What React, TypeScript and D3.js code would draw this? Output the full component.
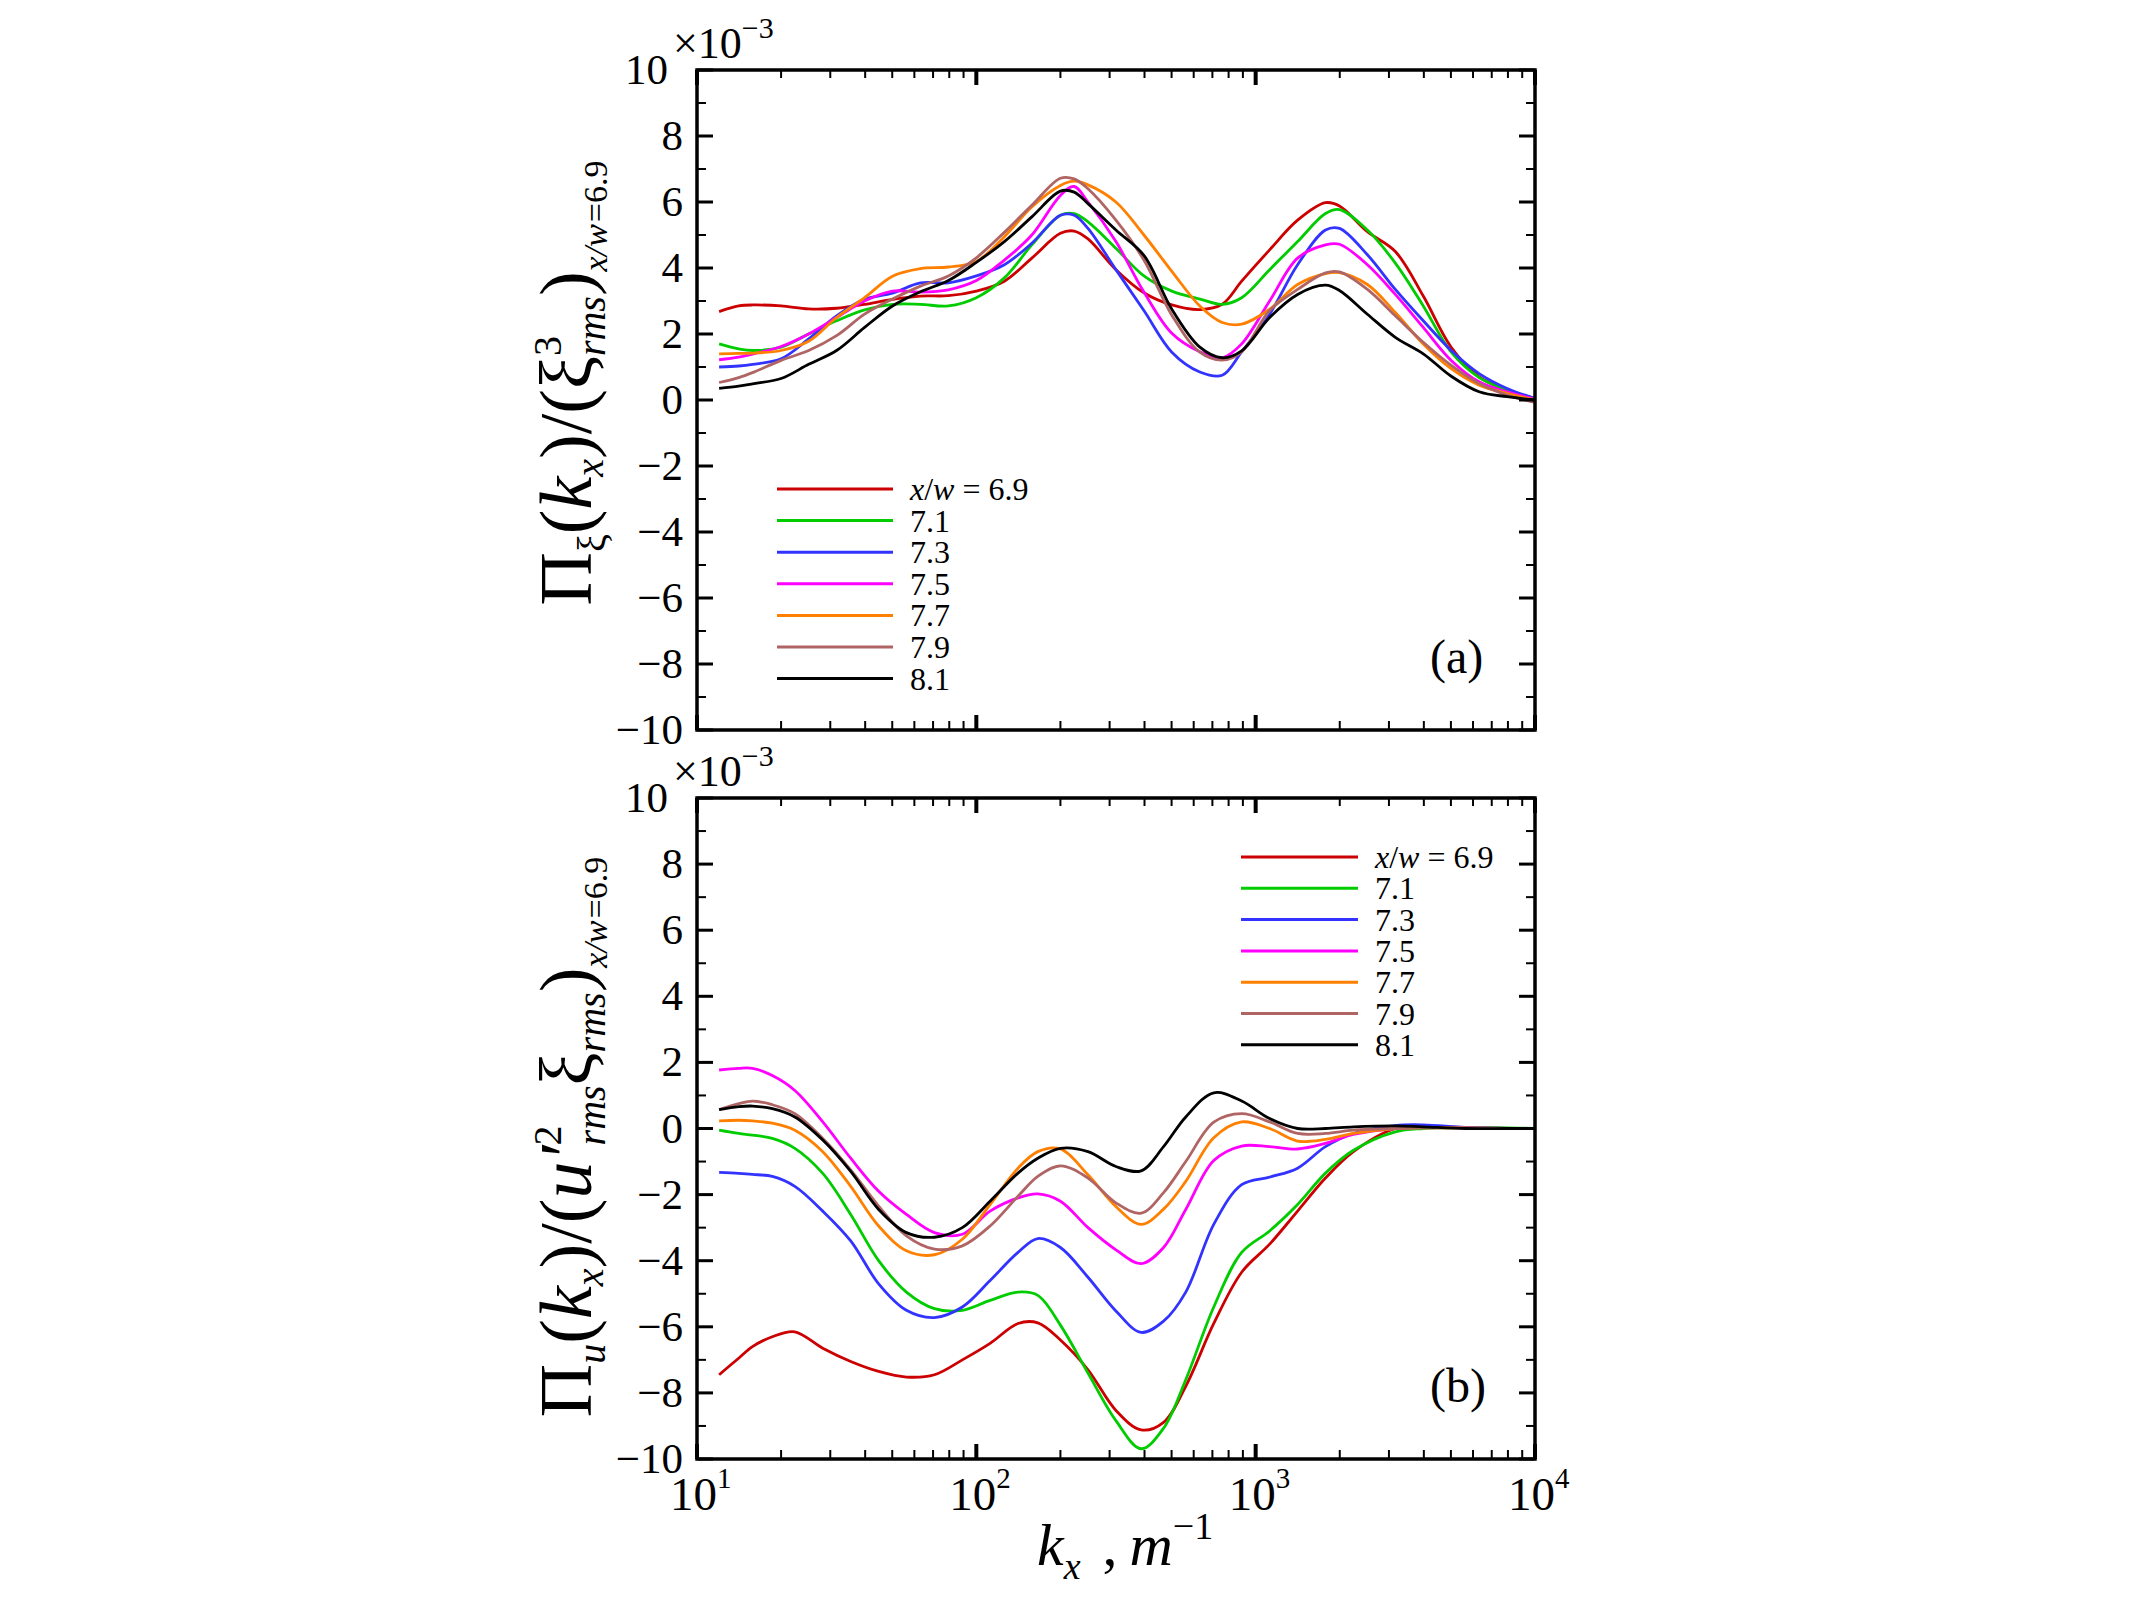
import * as d3 from 'd3';

// wavenumber grids (m^-1) at which the curves were read
const kxA = [12, 14.1, 15.8, 20, 25.1, 31.6, 39.8, 50.1, 63.1, 79.4, 100, 126, 158, 200, 224, 251, 316, 398, 501, 631, 759, 891, 1122, 1413, 1778, 1995, 2512, 3162, 3981, 5012, 6310, 7943, 10000];
const kxB = [12, 14.1, 15.8, 18.6, 22.4, 28.2, 35.5, 44.7, 56.2, 70.8, 89.1, 112, 141, 166, 200, 251, 316, 389, 468, 562, 708, 891, 1122, 1413, 1778, 2239, 3162, 3981, 5623, 7943, 10000];

const stations = ['6.9', '7.1', '7.3', '7.5', '7.7', '7.9', '8.1'];
const colors = ['#cc0000', '#00cc00', '#3333ff', '#ff00ff', '#ff8000', '#b06464', '#000000'];

// panel (a), values x 1e-3
const a69 = [2.68, 2.85, 2.88, 2.85, 2.76, 2.78, 2.9, 3.05, 3.15, 3.16, 3.3, 3.6, 4.3, 5.05, 5.12, 4.88, 3.95, 3.25, 2.88, 2.74, 2.9, 3.6, 4.55, 5.45, 5.98, 5.88, 5.1, 4.5, 3.15, 1.6, 0.7, 0.3, 0.05];
const a71 = [1.7, 1.55, 1.5, 1.6, 2.0, 2.4, 2.73, 2.9, 2.9, 2.85, 3.1, 3.7, 4.7, 5.6, 5.65, 5.4, 4.6, 3.76, 3.3, 3.06, 2.9, 3.1, 3.95, 4.8, 5.65, 5.77, 5.15, 4.15, 2.85, 1.45, 0.68, 0.3, 0.05];
const a73 = [1.0, 1.03, 1.08, 1.25, 1.85, 2.55, 3.05, 3.24, 3.55, 3.55, 3.76, 4.1, 4.75, 5.6, 5.6, 5.2, 3.95, 2.71, 1.45, 0.85, 0.75, 1.46, 2.6, 4.1, 5.15, 5.2, 4.4, 3.35, 2.4, 1.5, 0.8, 0.35, 0.05];
const a75 = [1.22, 1.3, 1.39, 1.62, 2.0, 2.5, 3.0, 3.3, 3.27, 3.34, 3.62, 4.24, 5.0, 6.2, 6.47, 6.0, 4.8, 3.27, 2.02, 1.46, 1.28, 1.7, 3.0, 4.3, 4.7, 4.72, 4.1, 3.2, 2.2, 1.2, 0.55, 0.25, 0.03];
const a77 = [1.4, 1.41, 1.42, 1.5, 1.78, 2.5, 3.1, 3.75, 3.98, 4.03, 4.2, 4.95, 5.85, 6.5, 6.63, 6.52, 6.0, 5.0, 3.9, 2.85, 2.35, 2.3, 2.75, 3.5, 3.83, 3.86, 3.5, 2.65, 1.7, 0.95, 0.45, 0.2, 0.0];
const a79 = [0.53, 0.68, 0.83, 1.2, 1.5, 1.95, 2.6, 3.06, 3.45, 3.76, 4.31, 5.08, 5.9, 6.72, 6.7, 6.4, 5.45, 4.24, 2.57, 1.45, 1.21, 1.46, 2.71, 3.35, 3.85, 3.88, 3.35, 2.55, 1.75, 1.05, 0.5, 0.15, -0.07];
const a81 = [0.35, 0.42, 0.49, 0.65, 1.08, 1.5, 2.2, 2.85, 3.28, 3.62, 4.17, 4.8, 5.55, 6.33, 6.3, 5.95, 5.15, 4.38, 2.75, 1.6, 1.28, 1.49, 2.5, 3.2, 3.48, 3.32, 2.6, 1.9, 1.4, 0.72, 0.25, 0.1, 0.0];

// panel (b), values x 1e-3
const b69 = [-7.45, -6.95, -6.6, -6.3, -6.15, -6.65, -7.05, -7.35, -7.52, -7.45, -7.0, -6.5, -5.9, -5.88, -6.4, -7.3, -8.53, -9.12, -8.89, -7.8, -5.9, -4.35, -3.5, -2.5, -1.5, -0.7, 0, 0.05, 0.03, 0, 0];
const b71 = [-0.05, -0.15, -0.2, -0.3, -0.6, -1.36, -2.6, -4.0, -4.95, -5.45, -5.5, -5.2, -4.95, -5.05, -5.95, -7.4, -8.84, -9.69, -9.07, -7.6, -5.4, -3.75, -3.1, -2.3, -1.35, -0.66, -0.1, 0, 0.03, 0.02, 0];
const b73 = [-1.33, -1.36, -1.39, -1.45, -1.75, -2.5, -3.4, -4.7, -5.5, -5.72, -5.4, -4.6, -3.75, -3.33, -3.6, -4.5, -5.52, -6.17, -5.83, -4.95, -2.9, -1.7, -1.47, -1.2, -0.55, -0.15, 0.09, 0.11, 0.03, 0, 0];
const b75 = [1.77, 1.82, 1.82, 1.6, 1.15, 0.2, -0.9, -1.9, -2.6, -3.15, -3.2, -2.5, -2.1, -1.98, -2.2, -3.0, -3.67, -4.09, -3.6, -2.45, -0.97, -0.53, -0.55, -0.62, -0.45, -0.18, 0, 0.03, 0.02, 0, 0];
const b77 = [0.23, 0.25, 0.23, 0.16, -0.05, -0.7, -1.75, -2.95, -3.7, -3.82, -3.35, -2.3, -1.2, -0.7, -0.62, -1.4, -2.36, -2.9, -2.44, -1.6, -0.28, 0.2, 0.0, -0.38, -0.33, -0.15, 0, 0.02, 0.02, 0, 0];
const b79 = [0.57, 0.75, 0.83, 0.72, 0.45, -0.3, -1.25, -2.35, -3.25, -3.65, -3.55, -2.95, -2.05, -1.45, -1.13, -1.5, -2.25, -2.56, -1.94, -1.0, 0.19, 0.45, 0.2, -0.15, -0.15, -0.05, 0, 0.02, 0.02, 0, 0];
const b81 = [0.57, 0.66, 0.68, 0.6, 0.35, -0.35, -1.3, -2.45, -3.15, -3.29, -3.0, -2.2, -1.35, -0.9, -0.6, -0.7, -1.15, -1.28, -0.55, 0.35, 1.08, 0.83, 0.3, 0.0, 0.0, 0.05, 0.08, 0.05, 0.0, 0, 0];

const seriesA = [a69, a71, a73, a75, a77, a79, a81];
const seriesB = [b69, b71, b73, b75, b77, b79, b81];

const yMajor = [-10, -8, -6, -4, -2, 0, 2, 4, 6, 8, 10];
const yMinor = [-9, -7, -5, -3, -1, 1, 3, 5, 7, 9];
const xMajor = [10, 100, 1000, 10000];
const xExp = ['1', '2', '3', '4'];

const FONT = 'Liberation Serif, serif';
const L = 697, R = 1535;

const x = d3.scaleLog().domain([10, 10000]).range([L, R]);
const xMinor: number[] = [];
[10, 100, 1000].forEach(d => { for (let m = 2; m <= 9; m++) xMinor.push(d * m); });

function fmt(v: number) {
  return v < 0 ? '\u2212' + Math.abs(v) : String(v);
}

function Panel({ top, bottom, kx, series, legend, tag, showX }: {
  top: number; bottom: number; kx: number[]; series: number[][];
  legend: { x0: number; x1: number; y0: number; dy: number };
  tag: string; showX: boolean;
}) {
  const y = d3.scaleLinear().domain([-10, 10]).range([bottom, top]);
  const line = d3.line<number>()
    .x((_, i) => x(kx[i]))
    .y(d => y(d))
    .curve(d3.curveCatmullRom.alpha(0.5));

  return <g>
    <defs>
      <clipPath id={'clip' + tag}><rect x={L} y={top} width={R - L} height={bottom - top} /></clipPath>
    </defs>
    <g clipPath={`url(#clip${tag})`}>
      {series.map((s, i) =>
        <path key={i} d={line(s) || ''} fill="none" stroke={colors[i]} strokeWidth={2.8} strokeLinejoin="round" />)}
    </g>

    {/* ticks on all four sides, pointing in */}
    {yMajor.map(v => <g key={'ym' + v}>
      <line x1={L} x2={L + 16} y1={y(v)} y2={y(v)} stroke="#000" strokeWidth={3} />
      <line x1={R} x2={R - 16} y1={y(v)} y2={y(v)} stroke="#000" strokeWidth={3} />
      <text x={v === 10 ? 668 : 683} y={y(v) + 14} textAnchor="end" fontSize={43}>{fmt(v)}</text>
    </g>)}
    {yMinor.map(v => <g key={'yn' + v}>
      <line x1={L} x2={L + 9} y1={y(v)} y2={y(v)} stroke="#000" strokeWidth={2} />
      <line x1={R} x2={R - 9} y1={y(v)} y2={y(v)} stroke="#000" strokeWidth={2} />
    </g>)}
    {xMajor.map((v, i) => <g key={'xm' + v}>
      <line x1={x(v)} x2={x(v)} y1={bottom} y2={bottom - 15} stroke="#000" strokeWidth={4} />
      <line x1={x(v)} x2={x(v)} y1={top} y2={top + 15} stroke="#000" strokeWidth={4} />
      {showX && <text x={x(v) - 27} y={bottom + 51} fontSize={47}>10<tspan fontSize={29} dy={-22}>{xExp[i]}</tspan></text>}
    </g>)}
    {xMinor.map(v => <g key={'xn' + v}>
      <line x1={x(v)} x2={x(v)} y1={bottom} y2={bottom - 9} stroke="#000" strokeWidth={2} />
      <line x1={x(v)} x2={x(v)} y1={top} y2={top + 8} stroke="#000" strokeWidth={2} />
    </g>)}

    <rect x={L} y={top} width={R - L} height={bottom - top} fill="none" stroke="#000" strokeWidth={3.5} />

    <text x={673} y={top - 12} fontSize={44}>{'\u00d7'}10<tspan fontSize={30} dy={-20}>{'\u22123'}</tspan></text>

    {stations.map((s, i) => {
      const ly = legend.y0 + i * legend.dy;
      return <g key={'lg' + s}>
        <line x1={legend.x0} x2={legend.x1} y1={ly} y2={ly} stroke={colors[i]} strokeWidth={3} />
        <text x={legend.x1 + 17} y={ly + 11} fontSize={32}>
          {i === 0 ? <><tspan fontStyle="italic">x</tspan>/<tspan fontStyle="italic">w</tspan> = {s}</> : s}
        </text>
      </g>;
    })}

    <text x={1430} y={bottom - 57} fontSize={48}>({tag})</text>
  </g>;
}

export default function App() {
  return <svg width={2134} height={1600} fontFamily={FONT}
    style={{ position: 'absolute', left: 0, top: 0, background: '#fff', fontFamily: FONT }}>
    <rect width={2134} height={1600} fill="#fff" />
    <Panel top={70} bottom={730} kx={kxA} series={seriesA} tag="a" showX={false}
      legend={{ x0: 777, x1: 893, y0: 489, dy: 31.6 }} />
    <Panel top={798} bottom={1459} kx={kxB} series={seriesB} tag="b" showX={true}
      legend={{ x0: 1241, x1: 1358, y0: 857, dy: 31.3 }} />

    {/* y labels */}
    <text transform="translate(591,383) rotate(-90)" textAnchor="middle" fontSize={74}>
      {'\u03a0'}<tspan fontSize={40} dy={14}>{'\u03be'}</tspan>
      <tspan dy={-14}>(</tspan><tspan fontStyle="italic">k</tspan><tspan fontSize={40} fontStyle="italic" dy={12}>x</tspan>
      <tspan dy={-12}>)/(</tspan>{'\u03be'}<tspan fontSize={40} dy={-30}>3</tspan>
      <tspan fontSize={40} fontStyle="italic" dx={-20} dy={44}>rms</tspan>
      <tspan dy={-14}>)</tspan><tspan fontSize={34} fontStyle="italic" dy={16}>x/w</tspan><tspan fontSize={34} dx={2}>=6.9</tspan>
    </text>
    <text transform="translate(591,1137) rotate(-90)" textAnchor="middle" fontSize={74}>
      {'\u03a0'}<tspan fontSize={40} fontStyle="italic" dy={14}>u</tspan>
      <tspan dy={-14}>(</tspan><tspan fontStyle="italic">k</tspan><tspan fontSize={40} fontStyle="italic" dy={12}>x</tspan>
      <tspan dy={-12}>)/(</tspan><tspan fontStyle="italic">u{'\u2032'}</tspan><tspan fontSize={40} dy={-30}>2</tspan>
      <tspan fontSize={40} fontStyle="italic" dx={-20} dy={44}>rms</tspan>
      <tspan dy={-14}>{'\u03be'}</tspan><tspan fontSize={40} fontStyle="italic" dy={14}>rms</tspan>
      <tspan dy={-14}>)</tspan><tspan fontSize={34} fontStyle="italic" dy={16}>x/w</tspan><tspan fontSize={34} dx={2}>=6.9</tspan>
    </text>

    {/* x title */}
    <text x={1037} y={1565} fontSize={60}>
      <tspan fontStyle="italic">k</tspan><tspan fontSize={38} fontStyle="italic" dy={14}>x</tspan>
      <tspan dy={-14} dx={22}>,</tspan><tspan fontStyle="italic" dx={12}>m</tspan>
      <tspan fontSize={38} dy={-26}>{'\u22121'}</tspan>
    </text>
  </svg>;
}
